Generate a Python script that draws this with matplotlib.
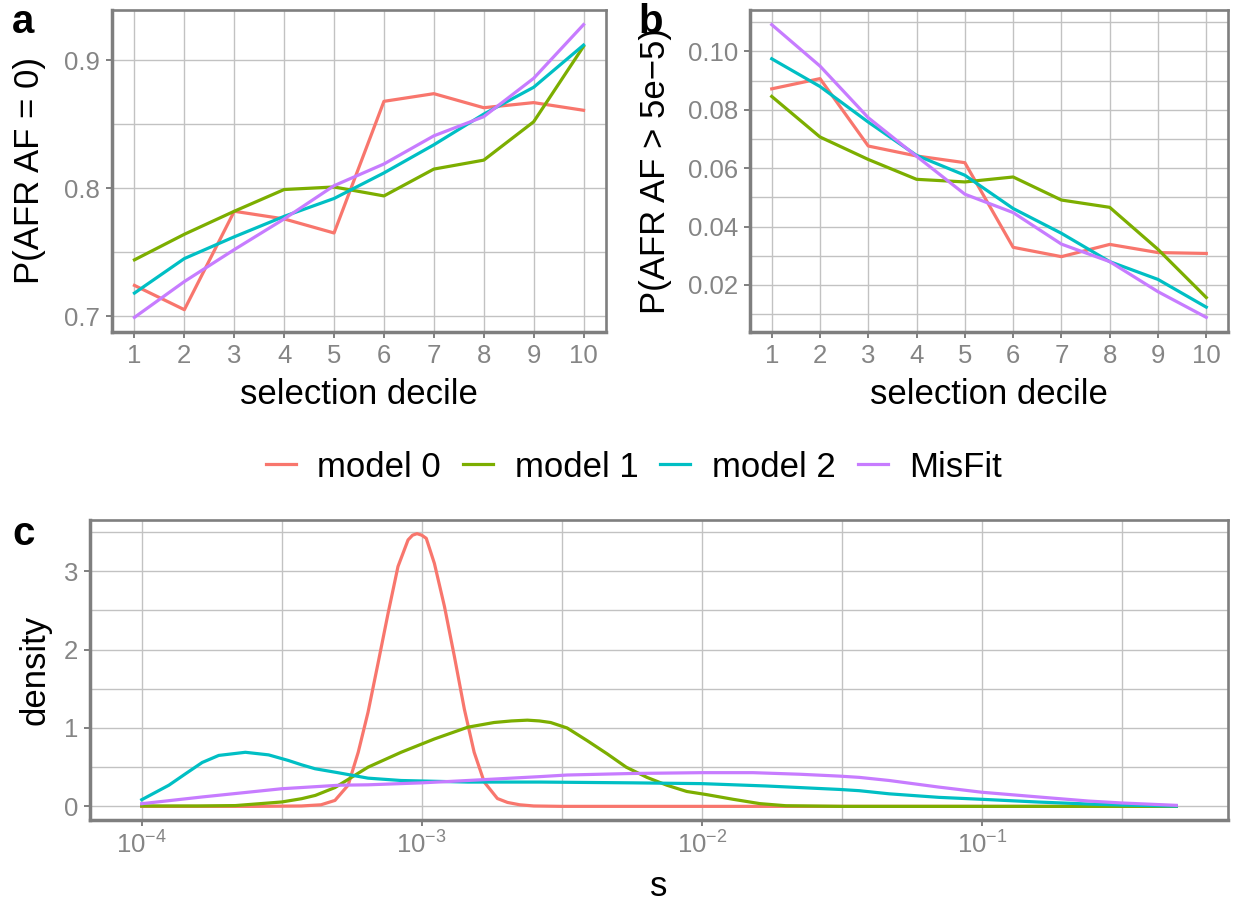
import numpy as np
import matplotlib
matplotlib.use("Agg")
import matplotlib.pyplot as plt
from matplotlib.ticker import FixedLocator, NullLocator
from matplotlib.lines import Line2D

plt.rcParams['font.family'] = ['Liberation Sans', 'DejaVu Sans']
plt.rcParams['mathtext.fontset'] = 'custom'
plt.rcParams['mathtext.rm'] = 'Liberation Sans'
plt.rcParams['mathtext.it'] = 'Liberation Sans:italic'

# ---------------- data ----------------
models = ["model 0", "model 1", "model 2", "MisFit"]
colors = ["#F8766D", "#7CAE00", "#00BFC4", "#C77CFF"]
deciles = [1, 2, 3, 4, 5, 6, 7, 8, 9, 10]

# panel a: P(AFR AF = 0)
a_model0 = [0.724, 0.705, 0.782, 0.776, 0.765, 0.868, 0.874, 0.863, 0.867, 0.861]
a_model1 = [0.744, 0.764, 0.782, 0.799, 0.801, 0.794, 0.815, 0.822, 0.852, 0.911]
a_model2 = [0.718, 0.745, 0.762, 0.778, 0.792, 0.812, 0.834, 0.858, 0.879, 0.912]
a_misfit = [0.699, 0.727, 0.752, 0.776, 0.802, 0.819, 0.841, 0.856, 0.886, 0.928]

# panel b: P(AFR AF > 5e-5)
b_model0 = [0.0872, 0.0907, 0.0676, 0.0642, 0.0619, 0.0329, 0.0297, 0.0339, 0.0311, 0.0308]
b_model1 = [0.0846, 0.0707, 0.0630, 0.0562, 0.0553, 0.0570, 0.0491, 0.0466, 0.0322, 0.0157]
b_model2 = [0.0975, 0.0880, 0.0758, 0.0644, 0.0576, 0.0462, 0.0377, 0.0280, 0.0219, 0.0124]
b_misfit = [0.1092, 0.0950, 0.0773, 0.0641, 0.0511, 0.0448, 0.0340, 0.0280, 0.0177, 0.0089]

# panel c: density of s (x given as log10(s))
c0_log10s = [-4.0, -3.6, -3.43, -3.36, -3.31, -3.263, -3.227, -3.192, -3.156, -3.12, -3.085,
             -3.049, -3.033, -3.017, -3.0, -2.984, -2.955, -2.919, -2.884, -2.848, -2.813,
             -2.777, -2.73, -2.694, -2.65, -2.60, -2.5, -0.306]
c0_density = [0.0, 0.0, 0.005, 0.02, 0.076, 0.27, 0.69, 1.20, 1.83, 2.47, 3.06,
              3.40, 3.46, 3.48, 3.46, 3.42, 3.10, 2.55, 1.92, 1.24, 0.69,
              0.31, 0.10, 0.05, 0.02, 0.005, 0.0, 0.0]

c1_log10s = [-4.0, -3.8, -3.666, -3.5, -3.429, -3.38, -3.31, -3.192, -3.074, -2.955, -2.836,
             -2.742, -2.68, -2.623, -2.58, -2.54, -2.481, -2.41, -2.338, -2.27, -2.196, -2.125,
             -2.054, -1.983, -1.888, -1.793, -1.70, -1.5, -0.306]
c1_density = [0.005, 0.005, 0.01, 0.056, 0.098, 0.14, 0.24, 0.50, 0.69, 0.86, 1.01,
              1.07, 1.09, 1.10, 1.09, 1.07, 1.0, 0.84, 0.67, 0.50, 0.37, 0.27,
              0.19, 0.15, 0.09, 0.035, 0.008, 0.0, 0.0]

c2_log10s = [-4.0, -3.903, -3.844, -3.784, -3.725, -3.63, -3.547, -3.476, -3.429, -3.381, -3.3,
             -3.192, -3.074, -2.955, -2.836, -2.576, -2.244, -2.0, -1.77, -1.509, -1.438,
             -1.331, -1.154, -1.0, -0.798, -0.62, -0.5, -0.306]
c2_density = [0.085, 0.27, 0.415, 0.56, 0.65, 0.69, 0.657, 0.585, 0.53, 0.48, 0.43,
              0.36, 0.33, 0.32, 0.31, 0.31, 0.30, 0.29, 0.26, 0.216, 0.20,
              0.16, 0.115, 0.09, 0.055, 0.03, 0.017, 0.003]

c3_log10s = [-4.0, -3.784, -3.5, -3.293, -3.192, -3.0, -2.836, -2.576, -2.481, -2.244, -2.0,
             -1.817, -1.651, -1.509, -1.438, -1.331, -1.154, -1.0, -0.798, -0.62, -0.5, -0.306]
c3_density = [0.034, 0.12, 0.225, 0.27, 0.275, 0.30, 0.33, 0.38, 0.40, 0.42, 0.43,
              0.43, 0.41, 0.386, 0.37, 0.33, 0.246, 0.18, 0.12, 0.068, 0.043, 0.013]

c_xticks_exp = [-4, -3, -2, -1]

# ---------------- layout ----------------
W, H = 1238, 909
fig = plt.figure(figsize=(W / 100, H / 100), dpi=100)


def rect(l, t, r, b):
    return [l / W, 1 - b / H, (r - l) / W, (b - t) / H]


SPINE = "#7F7F7F"
GRID = "#C2C2C2"
TICKLAB = "#858585"
LW = 2.3


def style(ax):
    for side in ["top", "right"]:
        ax.spines[side].set_color(SPINE)
        ax.spines[side].set_linewidth(1.9)
    for side in ["left", "bottom"]:
        ax.spines[side].set_color(SPINE)
        ax.spines[side].set_linewidth(2.5)
    ax.set_axisbelow(True)
    ax.grid(which="major", color=GRID, lw=1.0)
    ax.grid(which="minor", color=GRID, lw=1.0)
    ax.tick_params(which="major", length=4.5, width=1.4, color=SPINE,
                   labelcolor=TICKLAB, labelsize=18.5, pad=4)
    ax.tick_params(which="minor", length=0)


def expand(vals, frac=0.05):
    lo, hi = min(vals), max(vals)
    d = (hi - lo) * frac
    return lo - d, hi + d


axa = fig.add_axes(rect(112, 10, 606, 332))
axb = fig.add_axes(rect(750, 10, 1228, 332))
axc = fig.add_axes(rect(90, 520, 1228, 820))

# panel a
for ys, c in zip([a_model0, a_model1, a_model2, a_misfit], colors):
    axa.plot(deciles, ys, color=c, lw=LW)
axa.set_xlim(expand(deciles))
axa.set_ylim(expand(a_model0 + a_model1 + a_model2 + a_misfit))
axa.set_xticks(deciles)
axa.xaxis.set_minor_locator(NullLocator())
axa.set_yticks([0.7, 0.8, 0.9])
axa.set_yticklabels(["0.7", "0.8", "0.9"])
axa.yaxis.set_minor_locator(FixedLocator([0.75, 0.85]))
style(axa)

# panel b
for ys, c in zip([b_model0, b_model1, b_model2, b_misfit], colors):
    axb.plot(deciles, ys, color=c, lw=LW)
axb.set_xlim(expand(deciles))
axb.set_ylim(expand(b_model0 + b_model1 + b_model2 + b_misfit))
axb.set_xticks(deciles)
axb.xaxis.set_minor_locator(NullLocator())
axb.set_yticks([0.02, 0.04, 0.06, 0.08, 0.10])
axb.set_yticklabels(["0.02", "0.04", "0.06", "0.08", "0.10"])
axb.yaxis.set_minor_locator(FixedLocator([0.01, 0.03, 0.05, 0.07, 0.09, 0.11]))
style(axb)

# panel c
axc.set_xscale("log")
all_lx = []
all_d = []
for lx, d, c in zip([c0_log10s, c1_log10s, c2_log10s, c3_log10s],
                    [c0_density, c1_density, c2_density, c3_density], colors):
    axc.plot(10 ** np.array(lx), d, color=c, lw=LW)
    all_lx += lx
    all_d += d
lo, hi = expand(all_lx)
axc.set_xlim(10 ** lo, 10 ** hi)
axc.set_ylim(expand(all_d))
axc.set_xticks([10.0 ** e for e in c_xticks_exp])
axc.set_xticklabels([r"$10^{%d}$" % e for e in c_xticks_exp])
axc.xaxis.set_minor_locator(FixedLocator([10 ** (e + 0.5) for e in c_xticks_exp]))
axc.set_yticks([0, 1, 2, 3])
axc.yaxis.set_minor_locator(FixedLocator([0.5, 1.5, 2.5, 3.5]))
style(axc)

# axis titles
TS = 25
fig.text(359 / W, 1 - 395 / H, "selection decile", ha="center", va="center", fontsize=TS)
fig.text(989 / W, 1 - 395 / H, "selection decile", ha="center", va="center", fontsize=TS)
fig.text(30 / W, 1 - 171 / H, "P(AFR AF = 0)", ha="center", va="center", rotation=90, fontsize=TS)
fig.text(655 / W, 1 - 171 / H, "P(AFR AF > 5e\u22125)", ha="center", va="center", rotation=90, fontsize=TS)
fig.text(659 / W, 1 - 886 / H, "s", ha="center", va="center", fontsize=TS)
fig.text(35 / W, 1 - 670 / H, "density", ha="center", va="center", rotation=90, fontsize=TS)

# panel letters
fig.text(12 / W, 1 - 33 / H, "a", ha="left", va="baseline", fontsize=29, fontweight="bold")
fig.text(638 / W, 1 - 33 / H, "b", ha="left", va="baseline", fontsize=29, fontweight="bold")
fig.text(12 / W, 1 - 545 / H, "c", ha="left", va="baseline", fontsize=29, fontweight="bold")

# legend
handles = [Line2D([0], [0], color=c, lw=LW) for c in colors]
fig.legend(handles, models, loc="center", bbox_to_anchor=(634 / W, 1 - 467 / H), ncol=4,
           frameon=False, fontsize=TS, handlelength=0.86, handletextpad=0.63,
           columnspacing=0.63, borderpad=0, borderaxespad=0)

fig.savefig("out.png", dpi=100)
